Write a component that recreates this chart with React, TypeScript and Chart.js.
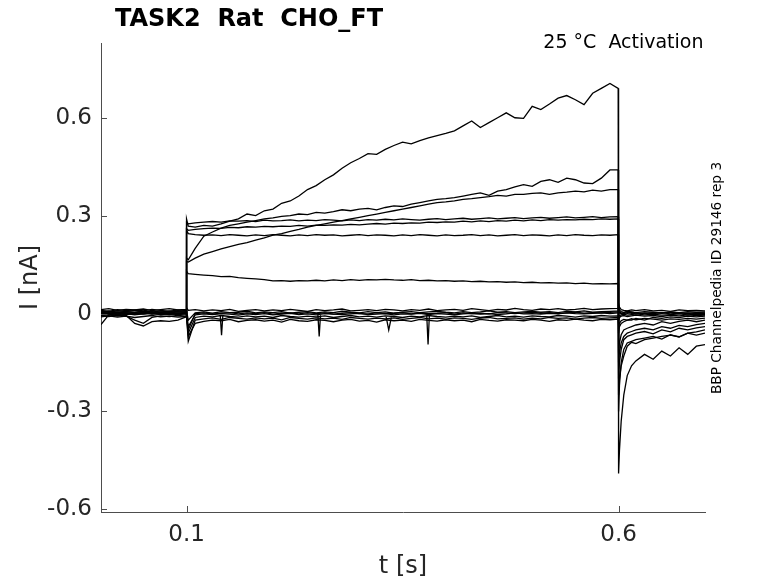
import React, { useEffect, useRef } from "react";
import { Chart, registerables, ChartConfiguration, Plugin } from "chart.js";

Chart.register(...registerables);

// time grids (s): baseline, voltage step, tail
const preT = [0.001, 0.01, 0.02, 0.03, 0.04, 0.05, 0.06, 0.07, 0.08, 0.09, 0.0995];
const stepT = [
  0.1, 0.102, 0.11, 0.12, 0.13, 0.14, 0.15, 0.16, 0.17, 0.18,
  0.19, 0.2, 0.21, 0.22, 0.23, 0.24, 0.25, 0.26, 0.27, 0.28,
  0.29, 0.3, 0.31, 0.32, 0.33, 0.34, 0.35, 0.36, 0.37, 0.38,
  0.39, 0.4, 0.41, 0.42, 0.43, 0.44, 0.45, 0.46, 0.47, 0.48,
  0.49, 0.5, 0.51, 0.52, 0.53, 0.54, 0.55, 0.56, 0.57, 0.58,
  0.59, 0.5995,
];
const tailT = [0.6, 0.601, 0.603, 0.606, 0.61, 0.615, 0.62, 0.63, 0.64, 0.65, 0.66, 0.67, 0.68, 0.69, 0.7];

const xTicks = [0.1, 0.6];
const yTicks = [-0.6, -0.3, 0, 0.3, 0.6];

// currents (nA), one sweep per trace
const aPre = [0.005, 0.008, 0.004, 0.006, 0.003, 0.007, 0.005, 0.004, 0.008, 0.006, 0.005];
const aStep = [
  0.29, 0.268, 0.265, 0.27, 0.268, 0.275, 0.283, 0.29, 0.305, 0.3,
  0.315, 0.32, 0.338, 0.345, 0.36, 0.38, 0.392, 0.41, 0.425, 0.445,
  0.462, 0.475, 0.49, 0.488, 0.503, 0.515, 0.525, 0.52, 0.53, 0.538,
  0.545, 0.552, 0.56, 0.575, 0.59, 0.57, 0.585, 0.6, 0.615, 0.6,
  0.598, 0.635, 0.625, 0.642, 0.66, 0.668, 0.655, 0.64, 0.675, 0.69,
  0.705, 0.69,
];
const aTail = [-0.49, -0.42, -0.33, -0.25, -0.19, -0.16, -0.145, -0.125, -0.14, -0.115, -0.13, -0.105, -0.125, -0.1, -0.095];

const bPre = [0.002, 0.0, 0.003, 0.001, -0.002, 0.002, 0.0, 0.003, 0.001, 0.002, 0.0];
const bStep = [
  0.17, 0.165, 0.2, 0.237, 0.25, 0.262, 0.27, 0.275, 0.28, 0.285,
  0.29, 0.293, 0.298, 0.3, 0.305, 0.303, 0.31, 0.308, 0.312, 0.318,
  0.315, 0.32, 0.322, 0.318, 0.325, 0.33, 0.328, 0.335, 0.34, 0.345,
  0.35, 0.352, 0.355, 0.36, 0.365, 0.37, 0.362, 0.375, 0.38, 0.388,
  0.395, 0.39, 0.405, 0.41, 0.402, 0.415, 0.41, 0.4, 0.398, 0.415,
  0.44, 0.44,
];
const bTail = [-0.3, -0.22, -0.15, -0.11, -0.09, -0.085, -0.08, -0.075, -0.07, -0.078, -0.065, -0.072, -0.06, -0.066, -0.06];

const cPre = [-0.003, 0.001, -0.002, 0.0, -0.004, -0.001, 0.002, -0.002, 0.0, -0.003, -0.001];
const cStep = [
  0.16, 0.158, 0.17, 0.182, 0.19, 0.198, 0.205, 0.212, 0.217, 0.225,
  0.232, 0.24, 0.245, 0.252, 0.258, 0.265, 0.27, 0.275, 0.28, 0.285,
  0.29, 0.295, 0.3, 0.305, 0.31, 0.315, 0.32, 0.325, 0.33, 0.335,
  0.34, 0.342, 0.345, 0.35, 0.352, 0.355, 0.358, 0.362, 0.36, 0.365,
  0.365, 0.368, 0.37, 0.365, 0.37, 0.372, 0.375, 0.373, 0.378, 0.375,
  0.38, 0.38,
];
const cTail = [-0.2, -0.15, -0.11, -0.08, -0.07, -0.065, -0.06, -0.055, -0.062, -0.05, -0.056, -0.045, -0.05, -0.044, -0.04];

const dPre = [0.01, 0.007, 0.012, 0.009, 0.011, 0.008, 0.013, 0.01, 0.007, 0.011, 0.009];
const dStep = [
  0.28, 0.275, 0.278, 0.28, 0.282, 0.28, 0.284, 0.283, 0.285, 0.282,
  0.286, 0.284, 0.285, 0.287, 0.284, 0.286, 0.285, 0.288, 0.286, 0.284,
  0.287, 0.285, 0.288, 0.286, 0.289, 0.287, 0.29, 0.288, 0.286, 0.289,
  0.291, 0.288, 0.29, 0.292, 0.289, 0.291, 0.293, 0.29, 0.292, 0.294,
  0.291, 0.293, 0.295, 0.292, 0.294, 0.296, 0.293, 0.295, 0.297, 0.294,
  0.296, 0.297,
];
const dTail = [-0.15, -0.12, -0.09, -0.07, -0.06, -0.055, -0.05, -0.045, -0.05, -0.04, -0.045, -0.036, -0.04, -0.034, -0.03];

const ePre = [-0.006, -0.004, -0.008, -0.005, -0.03, -0.038, -0.025, -0.022, -0.024, -0.02, -0.01];
const eStep = [
  0.26, 0.255, 0.258, 0.26, 0.262, 0.261, 0.264, 0.263, 0.266, 0.265,
  0.267, 0.266, 0.268, 0.267, 0.27, 0.268, 0.271, 0.27, 0.272, 0.271,
  0.273, 0.272, 0.274, 0.276, 0.274, 0.277, 0.276, 0.278, 0.277, 0.28,
  0.279, 0.281, 0.28, 0.283, 0.281, 0.284, 0.282, 0.285, 0.283, 0.286,
  0.284, 0.287, 0.285, 0.288, 0.286, 0.288, 0.287, 0.289, 0.288, 0.29,
  0.289, 0.29,
];
const eTail = [-0.25, -0.2, -0.16, -0.13, -0.1, -0.088, -0.092, -0.08, -0.075, -0.07, -0.066, -0.071, -0.06, -0.056, -0.05];

const fPre = [0.004, 0.001, 0.005, 0.002, 0.0, 0.003, 0.006, 0.002, 0.004, 0.001, 0.003];
const fStep = [
  0.255, 0.245, 0.242, 0.24, 0.241, 0.239, 0.242, 0.24, 0.238, 0.241,
  0.239, 0.242, 0.24, 0.238, 0.241, 0.239, 0.242, 0.24, 0.241, 0.238,
  0.24, 0.242, 0.239, 0.241, 0.24, 0.238, 0.241, 0.239, 0.242, 0.24,
  0.238, 0.241, 0.239, 0.24, 0.242, 0.239, 0.241, 0.238, 0.24, 0.242,
  0.239, 0.241, 0.24, 0.238, 0.241, 0.239, 0.242, 0.24, 0.239, 0.241,
  0.24, 0.242,
];
const fTail = [-0.12, -0.09, -0.065, -0.05, -0.045, -0.04, -0.035, -0.03, -0.035, -0.025, -0.03, -0.024, -0.02, -0.025, -0.02];

const gPre = [-0.034, -0.004, -0.001, -0.003, 0.0, -0.002, 0.001, -0.003, -0.001, -0.002, 0.0];
const gStep = [
  0.13, 0.122, 0.12, 0.118, 0.116, 0.113, 0.114, 0.11, 0.108, 0.106,
  0.104, 0.1, 0.101, 0.099, 0.101, 0.1, 0.102, 0.1, 0.103, 0.101,
  0.104, 0.102, 0.104, 0.103, 0.105, 0.103, 0.102, 0.104, 0.101, 0.102,
  0.1, 0.101, 0.099, 0.1, 0.098, 0.099, 0.097, 0.098, 0.096, 0.097,
  0.095, 0.096, 0.094, 0.095, 0.093, 0.094, 0.092, 0.093, 0.091, 0.092,
  0.091, 0.092,
];
const gTail = [-0.06, -0.04, -0.03, -0.025, -0.02, -0.02, -0.015, -0.02, -0.012, -0.015, -0.01, -0.012, -0.008, -0.01, -0.008];

// sweeps with no outward current
const n1Pre = [0.012, 0.015, 0.01, 0.013, 0.011, 0.014, 0.009, 0.012, 0.015, 0.011, 0.013];
const n1Step = [
  0.018, 0.01, 0.012, 0.008, 0.011, 0.009, 0.013, 0.007, 0.01, 0.012,
  0.008, 0.011, 0.009, 0.013, 0.01, 0.007, 0.012, 0.009, 0.011, 0.014,
  0.008, 0.01, 0.012, 0.009, 0.013, 0.011, 0.008, 0.012, 0.01, 0.014,
  0.009, 0.011, 0.013, 0.01, 0.015, 0.012, 0.009, 0.013, 0.011, 0.016,
  0.012, 0.01, 0.014, 0.012, 0.015, 0.011, 0.013, 0.016, 0.012, 0.014,
  0.015, 0.016,
];
const n1Tail = [0.03, 0.02, 0.012, 0.01, 0.008, 0.011, 0.009, 0.012, 0.008, 0.01, 0.007, 0.011, 0.009, 0.01, 0.008];

const n2Pre = [0.003, 0.006, 0.002, 0.005, 0.004, 0.007, 0.003, 0.005, 0.002, 0.006, 0.004];
const n2Step = [
  0.008, -0.02, 0.002, 0.005, 0.001, 0.006, 0.003, 0.004, 0.007, 0.002,
  0.005, 0.003, 0.006, 0.001, 0.004, 0.006, 0.002, 0.005, 0.003, 0.007,
  0.004, 0.002, 0.006, 0.003, 0.005, 0.001, 0.004, 0.006, 0.003, 0.005,
  0.007, 0.004, 0.002, 0.006, 0.003, 0.005, 0.008, 0.004, 0.006, 0.003,
  0.005, 0.007, 0.004, 0.006, 0.003, 0.007, 0.005, 0.008, 0.004, 0.006,
  0.007, 0.008,
];
const n2Tail = [0.02, 0.01, 0.006, 0.004, 0.007, 0.005, 0.003, 0.006, 0.004, 0.002, 0.005, 0.003, 0.006, 0.004, 0.005];

const n3Pre = [-0.002, 0.001, -0.003, 0.0, -0.001, 0.002, -0.002, 0.0, -0.003, 0.001, -0.001];
const n3Step = [
  0.005, -0.04, -0.004, -0.001, -0.003, 0.0, -0.002, -0.005, -0.001, -0.003,
  0.0, -0.004, -0.002, 0.001, -0.003, -0.001, -0.004, 0.0, -0.002, -0.003,
  -0.001, 0.001, -0.003, -0.002, 0.0, -0.004, -0.001, -0.002, 0.001, -0.003,
  0.0, -0.002, -0.004, -0.001, 0.001, -0.002, 0.0, -0.003, -0.001, 0.002,
  -0.001, 0.0, -0.002, 0.001, -0.001, 0.002, 0.0, -0.001, 0.001, 0.002,
  0.0, 0.002,
];
const n3Tail = [0.01, 0.004, 0.002, 0.0, 0.003, 0.001, -0.001, 0.002, 0.0, 0.003, -0.001, 0.001, 0.002, 0.0, 0.001];

const n4Pre = [-0.006, -0.009, -0.005, -0.008, -0.02, -0.03, -0.012, -0.007, -0.009, -0.006, -0.008];
const n4Step = [
  0.0, -0.06, -0.012, -0.008, -0.01, -0.006, -0.009, -0.011, -0.007, -0.01,
  -0.008, -0.012, -0.006, -0.009, -0.011, -0.008, -0.01, -0.007, -0.012, -0.009,
  -0.006, -0.01, -0.008, -0.011, -0.007, -0.009, -0.012, -0.008, -0.01, -0.006,
  -0.009, -0.011, -0.008, -0.01, -0.007, -0.012, -0.009, -0.006, -0.01, -0.008,
  -0.011, -0.007, -0.009, -0.01, -0.006, -0.008, -0.011, -0.007, -0.009, -0.006,
  -0.008, -0.007,
];
const n4Tail = [-0.01, -0.006, -0.004, -0.002, -0.005, -0.003, -0.001, -0.004, -0.002, -0.005, -0.003, -0.001, -0.004, -0.002, -0.003];

const n5Pre = [-0.01, -0.007, -0.011, -0.008, -0.012, -0.009, -0.006, -0.01, -0.008, -0.011, -0.009];
const n5Step = [
  -0.005, -0.085, -0.02, -0.016, -0.013, -0.018, -0.012, -0.015, -0.017, -0.013,
  -0.016, -0.014, -0.019, -0.012, -0.015, -0.017, -0.013, -0.016, -0.014, -0.018,
  -0.012, -0.015, -0.017, -0.014, -0.016, -0.013, -0.018, -0.015, -0.012, -0.016,
  -0.014, -0.017, -0.013, -0.015, -0.018, -0.014, -0.012, -0.016, -0.015, -0.013,
  -0.017, -0.014, -0.016, -0.012, -0.015, -0.013, -0.017, -0.014, -0.012, -0.015,
  -0.013, -0.012,
];
const n5Tail = [-0.02, -0.012, -0.008, -0.006, -0.009, -0.007, -0.005, -0.008, -0.006, -0.009, -0.005, -0.007, -0.004, -0.006, -0.005];

const n6Pre = [0.008, 0.005, 0.009, 0.006, 0.01, 0.007, 0.004, 0.008, 0.006, 0.009, 0.007];
const n6Step = [
  -0.01, -0.07, -0.03, -0.024, -0.02, -0.022, -0.018, -0.025, -0.021, -0.019,
  -0.023, -0.02, -0.026, -0.018, -0.022, -0.024, -0.019, -0.021, -0.025, -0.02,
  -0.018, -0.023, -0.021, -0.026, -0.019, -0.022, -0.02, -0.024, -0.018, -0.021,
  -0.023, -0.019, -0.022, -0.02, -0.025, -0.018, -0.021, -0.023, -0.019, -0.02,
  -0.022, -0.018, -0.02, -0.024, -0.019, -0.021, -0.017, -0.02, -0.022, -0.018,
  -0.019, -0.017,
];
const n6Tail = [-0.04, -0.03, -0.022, -0.018, -0.02, -0.016, -0.019, -0.015, -0.017, -0.02, -0.016, -0.018, -0.015, -0.017, -0.014];

const n7Pre = [0.0, 0.003, -0.001, 0.002, 0.0, 0.004, 0.001, -0.002, 0.002, 0.0, 0.003];
const n7Step = [
  0.003, -0.05, 0.0, 0.002, -0.002, 0.001, 0.003, -0.001, 0.002, 0.0,
  0.003, -0.002, 0.001, 0.002, -0.001, 0.003, 0.0, 0.002, -0.002, 0.001,
  0.003, 0.0, -0.001, 0.002, 0.0, 0.001, 0.003, -0.001, 0.002, 0.0,
  0.001, 0.003, -0.002, 0.002, 0.0, 0.001, -0.001, 0.003, 0.002, 0.0,
  0.002, 0.004, 0.001, 0.003, 0.0, 0.002, 0.004, 0.001, 0.003, 0.002,
  0.004, 0.005,
];
const n7Tail = [0.005, 0.002, 0.0, 0.003, 0.001, 0.004, 0.002, 0.0, 0.003, 0.001, 0.004, 0.002, 0.0, 0.003, 0.002];

// short artifacts (downward spikes) during the step
const spikeTimes = [
  [0.139, 0.1405, 0.142],
  [0.252, 0.2535, 0.255],
  [0.331, 0.334, 0.337],
  [0.378, 0.3795, 0.381],
];
const spikeValues = [
  [-0.005, -0.066, -0.006],
  [-0.004, -0.07, -0.005],
  [-0.01, -0.05, -0.012],
  [-0.006, -0.095, -0.005],
];

const sweeps: number[][][] = [
  [aPre, aStep, aTail],
  [bPre, bStep, bTail],
  [cPre, cStep, cTail],
  [dPre, dStep, dTail],
  [ePre, eStep, eTail],
  [fPre, fStep, fTail],
  [gPre, gStep, gTail],
  [n1Pre, n1Step, n1Tail],
  [n2Pre, n2Step, n2Tail],
  [n3Pre, n3Step, n3Tail],
  [n4Pre, n4Step, n4Tail],
  [n5Pre, n5Step, n5Tail],
  [n6Pre, n6Step, n6Tail],
  [n7Pre, n7Step, n7Tail],
];

const FONT = "'DejaVu Sans', sans-serif";
const AXIS_COLOR = "#4d4d4d";
const LABEL_COLOR = "#262626";

const toPoints = (t: number[], v: number[]) => t.map((x, i) => ({ x, y: v[i] }));

// draws inward tick marks and all the free text
const decorations: Plugin<"line"> = {
  id: "decorations",
  afterDraw(chart) {
    const { ctx, chartArea, scales } = chart;
    const xs = scales.x;
    const ys = scales.y;
    ctx.save();
    ctx.strokeStyle = AXIS_COLOR;
    ctx.lineWidth = 1;
    ctx.beginPath();
    yTicks.forEach((v) => {
      const py = Math.round(ys.getPixelForValue(v)) + 0.5;
      ctx.moveTo(chartArea.left, py);
      ctx.lineTo(chartArea.left + 6, py);
    });
    xTicks.forEach((v) => {
      const px = Math.round(xs.getPixelForValue(v)) + 0.5;
      ctx.moveTo(px, chartArea.bottom);
      ctx.lineTo(px, chartArea.bottom - 6);
    });
    ctx.stroke();

    ctx.fillStyle = "#000";
    ctx.font = `bold 24px ${FONT}`;
    ctx.textAlign = "left";
    ctx.textBaseline = "alphabetic";
    ctx.fillText("TASK2  Rat  CHO_FT", 115, 26);

    ctx.font = `19px ${FONT}`;
    ctx.textAlign = "right";
    ctx.fillText("25 °C  Activation", 703.5, 47.5);

    ctx.fillStyle = LABEL_COLOR;
    ctx.font = `24px ${FONT}`;
    ctx.textAlign = "center";
    ctx.textBaseline = "middle";
    ctx.fillText("t [s]", (chartArea.left + chartArea.right) / 2, 567);

    ctx.save();
    ctx.translate(31, (chartArea.top + chartArea.bottom) / 2);
    ctx.rotate(-Math.PI / 2);
    ctx.fillText("I [nA]", 0, 0);
    ctx.restore();

    ctx.fillStyle = "#000";
    ctx.save();
    ctx.translate(717, 278);
    ctx.rotate(-Math.PI / 2);
    ctx.font = `13.7px ${FONT}`;
    ctx.fillText("BBP Channelpedia ID 29146 rep 3", 0, 0);
    ctx.restore();

    ctx.restore();
  },
};

export default function App() {
  const canvasRef = useRef<HTMLCanvasElement | null>(null);
  const chartRef = useRef<Chart | null>(null);

  useEffect(() => {
    if (!canvasRef.current) return;
    if (chartRef.current) chartRef.current.destroy();

    const traceSets = sweeps.map(([pre, step, tail]) => ({
      data: [...toPoints(preT, pre), ...toPoints(stepT, step), ...toPoints(tailT, tail)],
      borderColor: "#000",
      borderWidth: 1.3,
      pointRadius: 0,
      tension: 0,
    }));
    const spikeSets = spikeTimes.map((t, i) => ({
      data: toPoints(t, spikeValues[i]),
      borderColor: "#000",
      borderWidth: 1.3,
      pointRadius: 0,
      tension: 0,
    }));

    const config: ChartConfiguration<"line"> = {
      type: "line",
      data: { datasets: [...traceSets, ...spikeSets] as any },
      options: {
        animation: false,
        responsive: false,
        devicePixelRatio: 1,
        layout: { padding: { top: 43, right: 73, left: 0, bottom: 0 } },
        plugins: { legend: { display: false }, tooltip: { enabled: false } },
        scales: {
          x: {
            type: "linear",
            min: 0.001,
            max: 0.7,
            grid: { display: false, drawTicks: false },
            border: { display: true, color: AXIS_COLOR, width: 1 },
            afterFit: (scale) => {
              scale.height = 71;
            },
            afterBuildTicks: (scale) => {
              scale.ticks = xTicks.map((value) => ({ value }));
            },
            ticks: {
              color: LABEL_COLOR,
              font: { family: FONT, size: 23 },
              padding: 9,
              maxRotation: 0,
              callback: (v) => String(v),
            },
          },
          y: {
            type: "linear",
            min: -0.608,
            max: 0.829,
            grid: { display: false, drawTicks: false },
            border: { display: true, color: AXIS_COLOR, width: 1 },
            afterFit: (scale) => {
              scale.width = 101;
            },
            afterBuildTicks: (scale) => {
              scale.ticks = yTicks.map((value) => ({ value }));
            },
            ticks: {
              color: LABEL_COLOR,
              font: { family: FONT, size: 23 },
              padding: 9,
              callback: (v) => String(v),
            },
          },
        },
      },
      plugins: [decorations],
    };

    chartRef.current = new Chart(canvasRef.current, config);
    return () => {
      if (chartRef.current) {
        chartRef.current.destroy();
        chartRef.current = null;
      }
    };
  }, []);

  return (
    <div style={{ position: "absolute", left: 0, top: 0, width: 778, height: 583, background: "#fff" }}>
      <canvas ref={canvasRef} width={778} height={583} style={{ width: 778, height: 583 }} />
    </div>
  );
}
